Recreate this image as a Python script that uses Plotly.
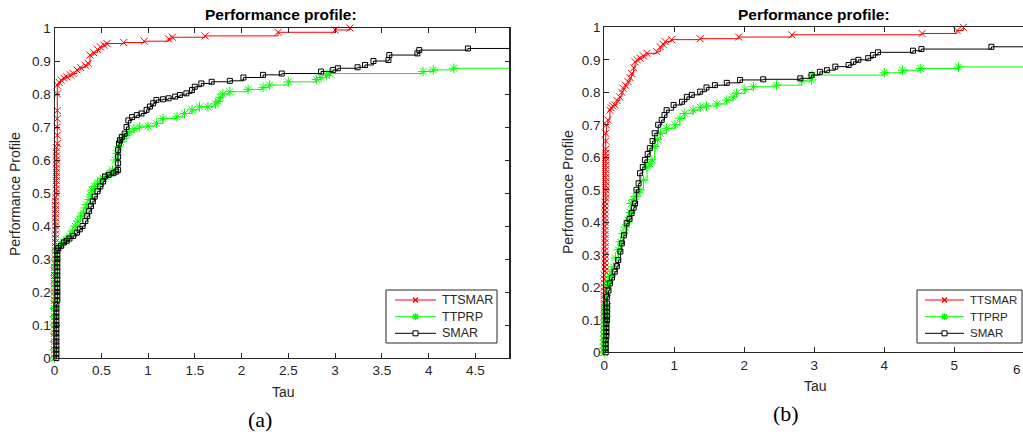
import plotly.graph_objects as go

W, H = 1023, 432

# ---------------- Panel (a) data ----------------
ttsmar_a_tau = [0, 0, 0, 0, 0, 0, 0, 0, 0, 0, 0, 0, 0, 0, 0, 0, 0, 0, 0, 0, 0, 0, 0, 0,
                0.01, 0.01, 0.01, 0.01, 0.01, 0.01, 0.01, 0.01, 0.01, 0.01, 0.01, 0.01, 0.01, 0.01, 0.01, 0.01,
                0.02, 0.02, 0.02, 0.02, 0.02, 0.02, 0.02, 0.02, 0.02, 0.02, 0.02, 0.02,
                0.03, 0.03, 0.03, 0.03, 0.03, 0.03, 0.03,
                0.05, 0.07, 0.1, 0.13, 0.17, 0.2, 0.24, 0.28, 0.33, 0.36, 0.38, 0.42,
                0.46, 0.49, 0.53, 0.56, 0.74, 0.96, 1.22, 1.26, 1.61, 2.39, 3.0, 3.16]
ttsmar_a_rho = [0.0, 0.0125, 0.025, 0.0375, 0.05, 0.0625, 0.075, 0.0875, 0.1, 0.1125, 0.125, 0.1375,
                0.15, 0.1625, 0.175, 0.1875, 0.2, 0.2125, 0.225, 0.2375, 0.25, 0.2625, 0.275, 0.2875,
                0.3, 0.3125, 0.325, 0.3375, 0.35, 0.3625, 0.375, 0.3875, 0.4, 0.4125, 0.425, 0.4375,
                0.45, 0.4625, 0.475, 0.4875,
                0.5, 0.5125, 0.525, 0.5375, 0.55, 0.5625, 0.575, 0.5875, 0.6, 0.6125, 0.625, 0.6375,
                0.65, 0.675, 0.7, 0.725, 0.75, 0.8, 0.827,
                0.835, 0.842, 0.848, 0.852, 0.858, 0.862, 0.873, 0.88, 0.887, 0.893, 0.918, 0.925,
                0.935, 0.943, 0.948, 0.953, 0.956, 0.96, 0.967, 0.972, 0.976, 0.987, 0.994, 1.0]

ttprp_a_tau = [0, 0, 0, 0, 0, 0, 0, 0.01, 0.01, 0.01, 0.01, 0.01, 0.02, 0.02,
               0.04, 0.07, 0.1, 0.13, 0.16, 0.19, 0.22, 0.25, 0.28, 0.31,
               0.33, 0.35, 0.37, 0.39, 0.4, 0.43, 0.46, 0.49, 0.52, 0.55,
               0.59, 0.62, 0.65, 0.67, 0.69, 0.71, 0.74, 0.77, 0.8, 0.85,
               0.91, 1.0, 1.09, 1.16, 1.31, 1.39, 1.47, 1.55, 1.64, 1.72,
               1.75, 1.77, 1.8, 1.875, 2.07, 2.23, 2.3, 2.5, 2.8, 2.85,
               2.91, 2.94, 3.94, 4.05, 4.27]
ttprp_a_rho = [0.0, 0.025, 0.05, 0.075, 0.1, 0.125, 0.15, 0.175, 0.2, 0.225, 0.25, 0.275, 0.3, 0.325,
               0.335, 0.345, 0.352, 0.36, 0.37, 0.385, 0.4, 0.415, 0.43, 0.44,
               0.455, 0.465, 0.48, 0.495, 0.509, 0.52, 0.53, 0.539, 0.545, 0.55,
               0.56, 0.57, 0.6, 0.62, 0.64, 0.655, 0.666, 0.675, 0.685, 0.695,
               0.70, 0.703, 0.711, 0.726, 0.731, 0.741, 0.752, 0.761, 0.761, 0.77,
               0.777, 0.79, 0.8, 0.807, 0.814, 0.82, 0.827, 0.837, 0.844, 0.85,
               0.856, 0.862, 0.868, 0.873, 0.878]

smar_a_tau = [0.02, 0.02, 0.02, 0.02, 0.02, 0.02, 0.02, 0.02, 0.02, 0.02, 0.02, 0.02, 0.02, 0.02,
              0.03, 0.03, 0.03, 0.03, 0.03, 0.03, 0.03, 0.03, 0.03, 0.03, 0.03, 0.03, 0.03,
              0.04, 0.07, 0.1, 0.13, 0.16, 0.2, 0.24, 0.27, 0.3, 0.33,
              0.35, 0.37, 0.39, 0.41, 0.43, 0.46, 0.49, 0.52, 0.54, 0.58,
              0.63, 0.66, 0.68, 0.68, 0.68, 0.68, 0.69, 0.7, 0.72, 0.75,
              0.77, 0.79, 0.83, 0.88, 0.93, 0.985, 1.02, 1.055, 1.09, 1.16,
              1.22, 1.29, 1.34, 1.41, 1.47, 1.5, 1.57, 1.68, 1.875, 2.02,
              2.23, 2.43, 2.85, 2.98, 3.03, 3.24, 3.32, 3.41, 3.57, 3.58,
              3.88, 3.9, 4.42]
smar_a_rho = [0.0, 0.0125, 0.025, 0.0375, 0.05, 0.0625, 0.075, 0.0875, 0.1, 0.1125, 0.125, 0.1375, 0.15, 0.1625,
              0.175, 0.1875, 0.2, 0.2125, 0.225, 0.2375, 0.25, 0.2625, 0.275, 0.2875, 0.3, 0.3125, 0.325,
              0.333, 0.34, 0.35, 0.355, 0.362, 0.37, 0.38, 0.39, 0.40, 0.415,
              0.43, 0.445, 0.46, 0.475, 0.489, 0.505, 0.52, 0.535, 0.55, 0.555,
              0.56, 0.565, 0.57, 0.59, 0.61, 0.63, 0.65, 0.66, 0.67, 0.68,
              0.70, 0.72, 0.73, 0.736, 0.741, 0.752, 0.762, 0.772, 0.782, 0.784,
              0.787, 0.792, 0.797, 0.802, 0.812, 0.822, 0.832, 0.837, 0.84, 0.85,
              0.858, 0.862, 0.868, 0.873, 0.878, 0.881, 0.888, 0.9, 0.903, 0.918,
              0.923, 0.933, 0.938]

tau_end_a = 4.87
x_ticks_a = [0, 0.5, 1, 1.5, 2, 2.5, 3, 3.5, 4, 4.5]
x_labels_a = ["0", "0.5", "1", "1.5", "2", "2.5", "3", "3.5", "4", "4.5"]

# ---------------- Panel (b) data ----------------
ttsmar_b_tau = [0, 0, 0, 0, 0, 0, 0, 0, 0, 0, 0, 0, 0, 0, 0, 0, 0, 0, 0, 0,
                0.01, 0.01, 0.01, 0.01, 0.01, 0.01, 0.01, 0.01, 0.01, 0.01, 0.01, 0.01, 0.01, 0.01, 0.01, 0.01, 0.01, 0.01,
                0.02, 0.02, 0.02, 0.02, 0.02, 0.02, 0.02, 0.02, 0.02, 0.02, 0.02, 0.02, 0.02, 0.02,
                0.02, 0.03, 0.05, 0.08, 0.1, 0.12, 0.15, 0.18, 0.22, 0.25,
                0.27, 0.3, 0.34, 0.37, 0.39, 0.42, 0.44, 0.47, 0.51, 0.56,
                0.61, 0.75, 0.8, 0.84, 0.87, 0.96, 1.37, 1.92, 2.68, 4.54,
                5.04, 5.13]
ttsmar_b_rho = [0.0, 0.0125, 0.025, 0.0375, 0.05, 0.0625, 0.075, 0.0875, 0.1, 0.1125,
                0.125, 0.1375, 0.15, 0.1625, 0.175, 0.1875, 0.2, 0.2125, 0.225, 0.2375,
                0.25, 0.2625, 0.275, 0.2875, 0.3, 0.3125, 0.325, 0.3375, 0.35, 0.3625,
                0.375, 0.3875, 0.4, 0.4125, 0.425, 0.4375, 0.45, 0.4625,
                0.475, 0.4875, 0.5, 0.5125, 0.525, 0.5375, 0.55, 0.5625, 0.575, 0.5875,
                0.6, 0.6125, 0.625, 0.65,
                0.674, 0.7, 0.715, 0.745, 0.752, 0.758, 0.761, 0.775, 0.786, 0.8,
                0.812, 0.822, 0.833, 0.845, 0.858, 0.875, 0.894, 0.9, 0.905, 0.912,
                0.92, 0.925, 0.94, 0.948, 0.956, 0.962, 0.965, 0.97, 0.977, 0.981,
                0.99, 1.0]

ttprp_b_tau = [0, 0, 0, 0, 0, 0.01, 0.01, 0.01, 0.01, 0.02, 0.02, 0.02, 0.03, 0.03,
               0.04, 0.06, 0.08, 0.1, 0.13, 0.16, 0.2, 0.23, 0.27, 0.3,
               0.34, 0.37, 0.39, 0.42, 0.45, 0.48, 0.51, 0.56, 0.61, 0.65,
               0.68, 0.72, 0.76, 0.8, 0.89, 1.01, 1.08, 1.15, 1.27, 1.37,
               1.46, 1.61, 1.75, 1.84, 1.89, 2.01, 2.13, 2.46, 2.82, 2.96,
               2.97, 4.0, 4.26, 4.52, 5.06]
ttprp_b_rho = [0.0, 0.0125, 0.025, 0.0375, 0.05, 0.0625, 0.075, 0.0875, 0.1, 0.1125, 0.125, 0.1375, 0.15, 0.175,
               0.2, 0.215, 0.233, 0.248, 0.263, 0.29, 0.315, 0.34, 0.366, 0.385,
               0.407, 0.43, 0.458, 0.47, 0.48, 0.49, 0.5, 0.53, 0.571, 0.58,
               0.592, 0.633, 0.655, 0.674, 0.689, 0.70, 0.72, 0.735, 0.745, 0.754,
               0.758, 0.764, 0.776, 0.786, 0.797, 0.809, 0.817, 0.822, 0.835, 0.838,
               0.853, 0.86, 0.868, 0.873, 0.878]

smar_b_tau = [0.02, 0.02, 0.02, 0.02, 0.03, 0.03, 0.03, 0.03, 0.04, 0.04, 0.04, 0.04, 0.04,
              0.04, 0.06, 0.08, 0.11, 0.15, 0.18, 0.2, 0.23, 0.25, 0.28,
              0.32, 0.36, 0.39, 0.42, 0.44, 0.46, 0.49, 0.51, 0.55, 0.58,
              0.62, 0.65, 0.69, 0.72, 0.77, 0.82, 0.86, 0.89, 0.99, 1.11,
              1.18, 1.25, 1.37, 1.46, 1.58, 1.75, 1.94, 2.27, 2.8, 2.96,
              3.08, 3.18, 3.3, 3.49, 3.56, 3.63, 3.77, 3.84, 3.91, 4.41,
              4.53, 5.53]
smar_b_rho = [0.0, 0.0125, 0.025, 0.0375, 0.05, 0.0625, 0.075, 0.0875, 0.1, 0.1125, 0.125, 0.1375, 0.15,
              0.171, 0.19, 0.212, 0.23, 0.248, 0.265, 0.284, 0.31, 0.335, 0.36,
              0.397, 0.41, 0.428, 0.445, 0.458, 0.5, 0.52, 0.551, 0.57, 0.592,
              0.61, 0.628, 0.65, 0.674, 0.70, 0.715, 0.73, 0.745, 0.761, 0.771,
              0.786, 0.792, 0.802, 0.815, 0.822, 0.829, 0.838, 0.84, 0.843, 0.853,
              0.863, 0.868, 0.879, 0.884, 0.894, 0.9, 0.905, 0.915, 0.923, 0.928,
              0.933, 0.94]

tau_end_b = 6.0
x_ticks_b = [0, 1, 2, 3, 4, 5]
x_labels_b = ["0", "1", "2", "3", "4", "5"]

y_ticks = [0, 0.1, 0.2, 0.3, 0.4, 0.5, 0.6, 0.7, 0.8, 0.9, 1]
y_labels = ["0", "0.1", "0.2", "0.3", "0.4", "0.5", "0.6", "0.7", "0.8", "0.9", "1"]

series_names = ["TTSMAR", "TTPRP", "SMAR"]

# ---------------- styles ----------------
RED, GREEN, BLACK = "#ff0000", "#00ff00", "#000000"
COLORS = [RED, GREEN, BLACK]
SYMBOLS = ["x-thin", "asterisk", "square-open"]
MSIZES = [7, 8, 5]
AX = "#262626"
FONT = "Liberation Sans, Arial, sans-serif"

fig = go.Figure()


def add_series(tau, rho, end_tau, k, xa, ya):
    color = COLORS[k]
    fig.add_trace(go.Scatter(
        x=tau, y=rho, mode="lines+markers", name=series_names[k],
        line=dict(color=color, width=1, shape="hv"),
        marker=dict(symbol=SYMBOLS[k], size=MSIZES[k], color=color,
                    line=dict(color=color, width=1)),
        xaxis=xa, yaxis=ya, cliponaxis=False, showlegend=False))
    if rho[-1] < 1:   # profile that never reaches 1 continues flat to the axis end
        fig.add_trace(go.Scatter(
            x=[tau[-1], end_tau], y=[rho[-1], rho[-1]], mode="lines",
            line=dict(color=color, width=1), showlegend=False,
            xaxis=xa, yaxis=ya, hoverinfo="skip"))


add_series(ttsmar_a_tau, ttsmar_a_rho, tau_end_a, 0, "x", "y")
add_series(ttprp_a_tau, ttprp_a_rho, tau_end_a, 1, "x", "y")
add_series(smar_a_tau, smar_a_rho, tau_end_a, 2, "x", "y")

add_series(ttsmar_b_tau, ttsmar_b_rho, tau_end_b, 0, "x2", "y2")
add_series(ttprp_b_tau, ttprp_b_rho, tau_end_b, 1, "x2", "y2")
add_series(smar_b_tau, smar_b_rho, tau_end_b, 2, "x2", "y2")

axis_common = dict(ticks="inside", ticklen=5, tickcolor=AX, showline=True, linecolor=AX,
                   linewidth=1, showgrid=False, zeroline=False, automargin=False,
                   tickfont=dict(family=FONT, size=13.5, color=AX))

fig.update_layout(
    width=W, height=H,
    margin=dict(l=0, r=0, t=0, b=0, autoexpand=False),
    paper_bgcolor="white", plot_bgcolor="white",
    showlegend=False,
    xaxis=dict(domain=[54.5 / W, 510 / W], anchor="y", range=[0, tau_end_a], mirror="ticks",
               tickmode="array", tickvals=x_ticks_a, ticktext=x_labels_a, **axis_common),
    yaxis=dict(domain=[(H - 358) / H, (H - 28) / H], anchor="x", range=[0, 1], mirror="ticks",
               tickmode="array", tickvals=y_ticks, ticktext=y_labels, **axis_common),
    xaxis2=dict(domain=[604.3 / W, 1.0], anchor="y2", range=[0, (W - 604.3) / 70.0], mirror="ticks",
                tickmode="array", tickvals=x_ticks_b, ticktext=x_labels_b, **axis_common),
    yaxis2=dict(domain=[(H - 352.3) / H, (H - 27.3) / H], anchor="x2", range=[0, 1], mirror=False,
                tickmode="array", tickvals=y_ticks, ticktext=y_labels, **axis_common),
)

# thicker right spine on panel (a)
fig.add_shape(type="line", xref="x domain", yref="y domain", x0=1, x1=1, y0=0, y1=1,
              line=dict(color=AX, width=2))


def px(x):
    return x / W


def py(y):
    return 1 - y / H


def pline(x0, y0, x1, y1, color, width=1):
    fig.add_shape(type="line", xref="paper", yref="paper", x0=px(x0), y0=py(y0),
                  x1=px(x1), y1=py(y1), line=dict(color=color, width=width), layer="above")


ann = []
def txt(x, y, s, size=14, bold=False, angle=0, family=FONT, color=AX, xanchor="center"):
    ann.append(dict(x=px(x), y=py(y), xref="paper", yref="paper", showarrow=False,
                    text=f"<b>{s}</b>" if bold else s, textangle=angle,
                    font=dict(family=family, size=size, color=color if not bold else "#000"),
                    xanchor=xanchor, yanchor="middle"))


# ---- custom legends (MATLAB-style compact boxes) ----
legend_boxes = [(386, 290, 497, 343, 395, 436, 440, 12.5),
                (917, 290, 1022, 343, 925, 964, 968, 11.5)]
legend_rows = [300, 316.7, 333.3]
for (bx0, by0, bx1, by1, lx0, lx1, tx, fs) in legend_boxes:
    fig.add_shape(type="rect", xref="paper", yref="paper", x0=px(bx0), y0=py(by0),
                  x1=px(bx1), y1=py(by1), line=dict(color=AX, width=1),
                  fillcolor="white", layer="above")
    cx = (lx0 + lx1) / 2
    for k, ry in enumerate(legend_rows):
        c = COLORS[k]
        pline(lx0, ry, lx1, ry, c)
        if k == 0:      # x marker
            pline(cx - 2.5, ry - 2.5, cx + 2.5, ry + 2.5, c, 1.5)
            pline(cx - 2.5, ry + 2.5, cx + 2.5, ry - 2.5, c, 1.5)
        elif k == 1:    # asterisk marker
            pline(cx - 3.5, ry, cx + 3.5, ry, c, 1.5)
            pline(cx, ry - 3.5, cx, ry + 3.5, c, 1.5)
            pline(cx - 2.5, ry - 2.5, cx + 2.5, ry + 2.5, c, 1.5)
            pline(cx - 2.5, ry + 2.5, cx + 2.5, ry - 2.5, c, 1.5)
        else:           # open square marker
            fig.add_shape(type="rect", xref="paper", yref="paper",
                          x0=px(cx - 2.5), y0=py(ry - 2.5), x1=px(cx + 2.5), y1=py(ry + 2.5),
                          line=dict(color=c, width=1), fillcolor="white", layer="above")
        txt(tx, ry, series_names[k], size=fs, xanchor="left")

txt(281, 15, "Performance profile:", size=15.5, bold=True)
txt(814, 15, "Performance profile:", size=15.5, bold=True)
txt(15, 194, "Performance Profile", angle=-90)
txt(568, 192, "Performance Profile", angle=-90)
txt(283, 392, "Tau")
txt(815, 386, "Tau")
txt(260, 419, "(a)", size=22, family="Liberation Serif, Times New Roman, serif", color="#000")
txt(786, 413, "(b)", size=22, family="Liberation Serif, Times New Roman, serif", color="#000")
txt(1023, 369, "6", size=13.5, xanchor="right")
fig.update_layout(annotations=ann)

fig.write_html("out.html", config={"displayModeBar": False},
               post_script="document.body.style.margin='0';document.body.style.overflow='hidden';")
